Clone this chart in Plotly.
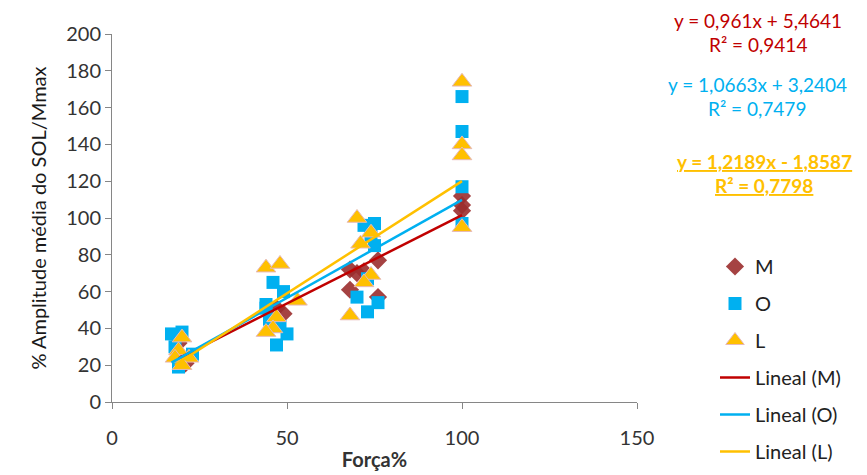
import plotly.graph_objects as go

# Data
M_x = [19, 20, 21, 47, 49, 68, 70, 72, 76, 68, 76, 100, 100, 100]
M_y = [32, 23, 21, 51, 48, 72, 70, 71, 77, 61, 57, 112, 107, 104]

O_x = [17, 20, 18, 23, 19, 44, 46, 49, 44, 45, 50, 48, 47, 72, 74, 75, 75, 73, 70, 76, 73, 100, 100, 100, 100]
O_y = [37, 38, 30, 26, 19, 51, 65, 60, 53, 45, 37, 41, 31, 96, 90, 85, 97, 67, 57, 54, 49, 166, 147, 117, 97]

L_x = [20, 19, 18, 22, 20, 44, 48, 53, 47, 46, 44, 70, 74, 71, 74, 72, 68, 100, 100, 100, 100]
L_y = [35, 28, 24, 24, 20, 73, 75, 55, 46, 40, 38, 100, 92, 86, 69, 65, 47, 174, 140, 134, 95]

# Trendline coefficients (from chart labels)
M_fit = (0.961, 5.4641)
O_fit = (1.0663, 3.2404)
L_fit = (1.2189, -1.8587)

x_ticks = [0, 50, 100, 150]
y_ticks = list(range(0, 201, 20))

RED = "#C00000"
BLUE = "#00B0F0"
YEL = "#FFC000"
FONT = "Lato"

# page has an 8px body margin; figure sized to fit the window
OFF = 8
W, H = 867 - OFF, 475 - OFF
PL, PR, PT, PB = 112 - OFF, 637 - OFF, 34 - OFF, 402 - OFF

fig = go.Figure()

fig.add_trace(go.Scatter(x=M_x, y=M_y, mode="markers", name="M", legendgroup="1",
                         marker=dict(symbol="diamond", size=14, color="rgba(155,45,45,0.9)",
                                     line=dict(width=0))))
fig.add_trace(go.Scatter(x=O_x, y=O_y, mode="markers", name="O", legendgroup="2",
                         marker=dict(symbol="square", size=13, color=BLUE, line=dict(width=0))))
fig.add_trace(go.Scatter(x=L_x, y=L_y, mode="markers", name="L", legendgroup="3",
                         marker=dict(symbol="triangle-up", size=17, color=YEL,
                                     line=dict(width=1, color="#E6B9B8"))))

for nm, xs, fit, col, g in [("Lineal (M)", M_x, M_fit, RED, "4"),
                            ("Lineal (O)", O_x, O_fit, BLUE, "5"),
                            ("Lineal (L)", L_x, L_fit, YEL, "6")]:
    xx = [min(xs), max(xs)]
    yy = [fit[0] * v + fit[1] for v in xx]
    fig.add_trace(go.Scatter(x=xx, y=yy, mode="lines", name=nm, legendgroup=g,
                             line=dict(color=col, width=2.5)))

ann = [
    ("y = 0,961x + 5,4641", None, RED, 758),
    ("R² = 0,9414", 45, RED, 758),
    ("y = 1,0663x + 3,2404", 84, BLUE, 757),
    ("R² = 0,7479", 109, BLUE, 757),
    ("<b><u>y = 1,2189x - 1,8587</u></b>", 161, YEL, 764),
    ("<b><u>R² = 0,7798</u></b>", 186, YEL, 764),
]
for t, y, c, cx in ann:
    if y is None:
        ypos, yanch = PB / (PB - PT), "top"
    else:
        ypos, yanch = (PB - (y - OFF)) / (PB - PT), "middle"
    fig.add_annotation(text=t, xref="paper", yref="paper",
                       x=(cx - OFF - PL) / (PR - PL), y=ypos,
                       xanchor="center", yanchor=yanch, showarrow=False, borderpad=0,
                       font=dict(family=FONT, size=19, color=c))

axis_common = dict(showgrid=False, zeroline=False, showline=True, linecolor="#868686",
                   linewidth=1, ticks="outside", ticklen=6, tickcolor="#868686",
                   tickfont=dict(family=FONT, size=20, color="#333333"))

fig.update_xaxes(range=[0, 150], tickvals=x_ticks, ticklabelstandoff=12, **axis_common,
                 title=dict(text="<b>Força%</b>", font=dict(family=FONT, size=20, color="#333333"), standoff=4))
fig.update_yaxes(range=[0, 200], tickvals=y_ticks, **axis_common,
                 title=dict(text="% Amplitude média do SOL/Mmax", font=dict(family=FONT, size=20, color="#1a1a1a"), standoff=14))

fig.update_layout(
    width=W, height=H,
    margin=dict(l=PL, r=W - PR, t=PT, b=H - PB, autoexpand=False),
    plot_bgcolor="white", paper_bgcolor="white",
    legend=dict(x=(715 - OFF - PL) / (PR - PL), y=(PB - (247 - OFF)) / (PB - PT),
                xanchor="left", yanchor="top",
                traceorder="grouped", tracegroupgap=8,
                font=dict(family=FONT, size=20, color="#222222"),
                bgcolor="rgba(0,0,0,0)"),
)

fig.write_html("out.html")
